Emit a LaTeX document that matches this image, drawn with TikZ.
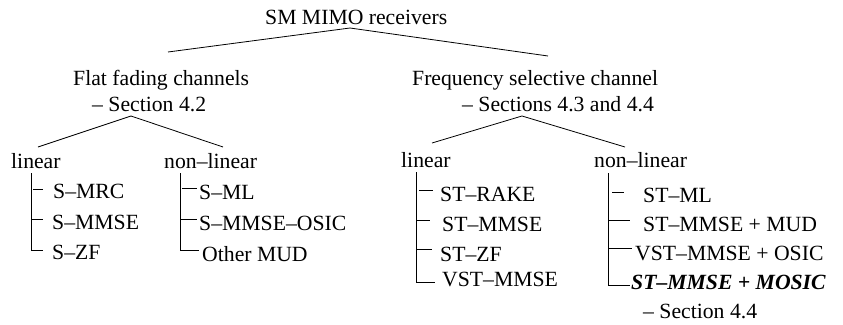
\documentclass[tikz,border=0pt]{standalone}
\usepackage{fontspec}
\setmainfont{Liberation Serif}
\begin{document}
\begin{tikzpicture}[x=1pt,y=-1pt,
  txt/.style={inner sep=0pt, anchor=base west, font=\fontsize{21.7}{26}\selectfont},
  bi/.style={inner sep=0pt, anchor=base west, font=\fontsize{21.7}{26}\selectfont\bfseries\itshape},
  ln/.style={line width=0.8pt}]
\useasboundingbox (0,0) rectangle (843,324);
% texts
\node[txt] (title) at (265,24) {SM MIMO receivers};
\node[txt] (flat1) at (73,85) {Flat fading channels};
\node[txt] (flat2) at (92,111) {– Section 4.2};
\node[txt] (freq1) at (412,85) {Frequency selective channel};
\node[txt] (freq2) at (462,111) {– Sections 4.3 and 4.4};
\node[txt] (linL) at (11,168) {linear};
\node[txt] (nlL) at (164,168) {non–linear};
\node[txt] (linR) at (401,167) {linear};
\node[txt] (nlR) at (594,167) {non–linear};
\node[txt] (a1) at (53,198) {S–MRC};
\node[txt] (a2) at (52,229) {S–MMSE};
\node[txt] (a3) at (52,259) {S–ZF};
\node[txt] (b1) at (199,199) {S–ML};
\node[txt] (b2) at (199,230) {S–MMSE–OSIC};
\node[txt] (b3) at (202,261) {Other MUD};
\node[txt] (c1) at (440,201) {ST–RAKE};
\node[txt] (c2) at (442,231) {ST–MMSE};
\node[txt] (c3) at (440,261) {ST–ZF};
\node[txt] (c4) at (442,286) {VST–MMSE};
\node[txt] (d1) at (643,202) {ST–ML};
\node[txt] (d2) at (643,231) {ST–MMSE + MUD};
\node[txt] (d3) at (635,260) {VST–MMSE + OSIC};
\node[bi] (d4) at (631,289) {ST–MMSE + MOSIC};
\node[txt] (d5) at (643,318) {– Section 4.4};
% branch points
\coordinate (tA) at (350,28);
\coordinate (tL) at (168,52);
\coordinate (tR) at (548,56);
\coordinate (fA) at (131,116);
\coordinate (fL) at (38,147);
\coordinate (fR) at (223,147);
\coordinate (sA) at (522,116);
\coordinate (sL) at (432,143);
\coordinate (sR) at (625,147);
\draw[ln] (tL) -- (tA) -- (tR);
\draw[ln] (fL) -- (fA) -- (fR);
\draw[ln] (sL) -- (sA) -- (sR);
% left linear list
\draw[ln] (31,173) |- (43,250);
\draw[ln] (33,189) -- (43,189);
\draw[ln] (31,219) -- (43,219);
% left non-linear list
\draw[ln] (180,173) |- (199,250);
\draw[ln] (182,188) -- (197,188);
\draw[ln] (180,219) -- (197,219);
% right linear list
\draw[ln] (416,172) |- (435,282);
\draw[ln] (419,190) -- (433,190);
\draw[ln] (416,220) -- (430,220);
\draw[ln] (416,249) -- (432,249);
% right non-linear list
\draw[ln] (608,173) |- (630,285);
\draw[ln] (612,192) -- (624,192);
\draw[ln] (608,220) -- (630,220);
\draw[ln] (608,248) -- (632,248);
\end{tikzpicture}
\end{document}
